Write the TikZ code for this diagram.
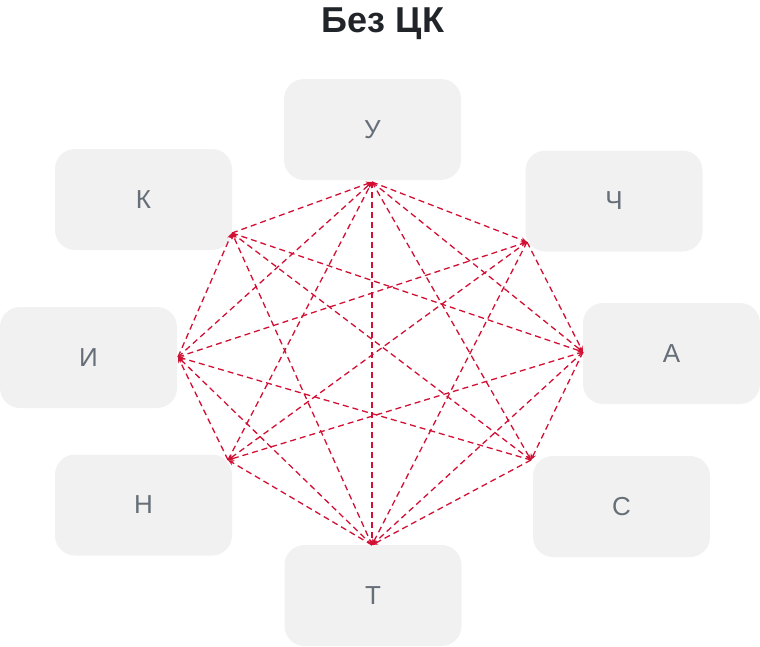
\documentclass[tikz,border=0pt]{standalone}
\usepackage{fontspec}
\setmainfont{Liberation Sans}
\usepackage{xcolor}
\usetikzlibrary{arrows.meta}

\definecolor{boxgray}{RGB}{241,241,241}
\definecolor{labelgray}{RGB}{102,110,120}
\definecolor{titledark}{RGB}{33,37,41}
\definecolor{linkred}{RGB}{210,16,52}

\begin{document}
\begin{tikzpicture}[
  x=1pt, y=-1pt, >={Stealth[length=6pt,width=5pt]},
  player/.style={fill=boxgray, rounded corners=20pt, minimum width=177pt, minimum height=101pt,
    inner sep=0pt, font=\fontsize{26}{30}\selectfont, text=labelgray},
  link/.style={->, draw=linkred, line width=1.3pt, dash pattern=on 6pt off 4pt},
]
\useasboundingbox (0,0) rectangle (760,646);
\node[anchor=base, font=\fontsize{36}{42}\selectfont\bfseries, text=titledark] (title) at (383,32) {Без ЦК};

\node[player] (u)  at (372.5,129.5) {У};
\node[player] (ch) at (614,201)     {Ч};
\node[player] (a)  at (671.5,353.5) {А};
\node[player] (s)  at (621.5,506.5) {С};
\node[player] (t)  at (373,595.5)   {Т};
\node[player] (n)  at (143.5,505)   {Н};
\node[player] (i)  at (88.5,357.5)  {И};
\node[player] (k)  at (143.5,199.5) {К};

% ends of the links, near the box corners
\coordinate (pu)  at (372,182);
\coordinate (pch) at (527,242);
\coordinate (pa)  at (583,352);
\coordinate (ps)  at (531,460);
\coordinate (pt)  at (372,545);
\coordinate (pn)  at (228,460);
\coordinate (pi)  at (178,357);
\coordinate (pk)  at (232,233);

\draw[link] (pu) -- (pch);
\draw[link] (pch) -- (pa);
\draw[link] (pa) -- (ps);
\draw[link] (ps) -- (pt);
\draw[link] (pt) -- (pn);
\draw[link] (pn) -- (pi);
\draw[link] (pi) -- (pk);
\draw[link] (pk) -- (pu);
\draw[link] (pu) -- (pa);
\draw[link] (pa) -- (pt);
\draw[link] (pt) -- (pi);
\draw[link] (pi) -- (pu);
\draw[link] (pu) -- (ps);
\draw[link] (pch) -- (pt);
\draw[link] (pa) -- (pn);
\draw[link] (ps) -- (pi);
\draw[link] (pt) -- (pk);
\draw[link] (pn) -- (pu);
\draw[link] (pi) -- (pch);
\draw[link] (pk) -- (pa);
\draw[link] (pu) -- (pt);
\draw[link] (pch) -- (pn);
\draw[link] (ps) -- (pk);
\end{tikzpicture}
\end{document}
